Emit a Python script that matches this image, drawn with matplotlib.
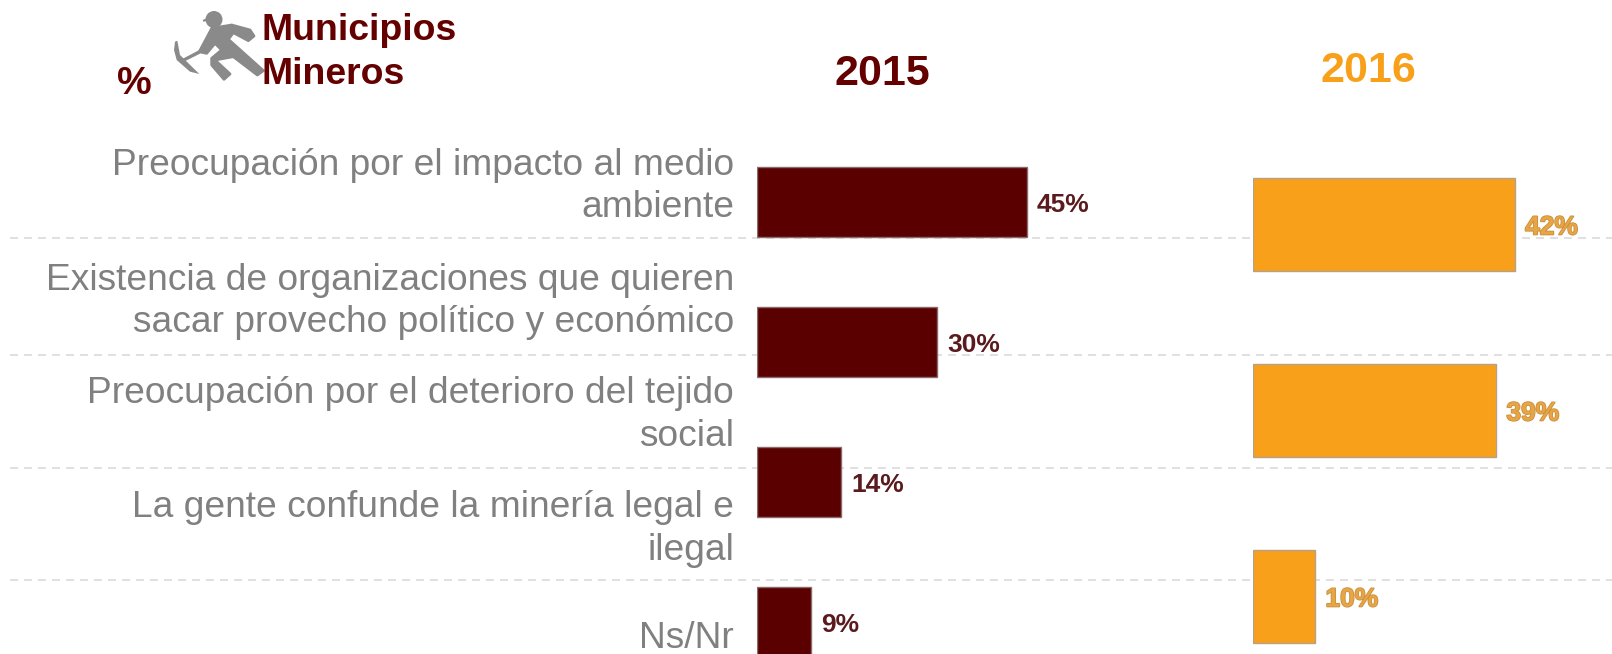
import matplotlib
matplotlib.use("Agg")
import matplotlib.pyplot as plt
import matplotlib.patheffects as pe
from matplotlib.patches import Polygon, Circle

plt.rcParams['font.family'] = ['Liberation Sans', 'DejaVu Sans']

categories = [
    "Preocupación por el impacto al medio\nambiente",
    "Existencia de organizaciones que quieren\nsacar provecho político y económico",
    "Preocupación por el deterioro del tejido\nsocial",
    "La gente confunde la minería legal e\nilegal",
    "Ns/Nr",
]
values_2015 = [45, 30, 14, 9]
values_2016 = [42, 39, 10]
labels_2015 = ["45%", "30%", "14%", "9%"]
labels_2016 = ["42%", "39%", "10%"]

W, H = 1612, 654
MAROON = "#5a0000"
TITLE_RED = "#640000"
ORANGE = "#f9a01b"
GREY = "#808080"


def px_axes(fig, left, top, right, bottom, **kw):
    return fig.add_axes([left / W, 1 - bottom / H, (right - left) / W, (bottom - top) / H], **kw)


def bar_axes(fig, values, labels, x0, px_per, first_y, pitch, height, color, edge, text_style):
    # y axis is in rows, x axis is in percent
    ax = px_axes(fig, x0, 0, W, H, zorder=2)
    ax.patch.set_alpha(0)
    ax.axis("off")
    ax.set_xlim(0, (W - x0) / px_per)
    ax.set_ylim((H - first_y) / pitch, -first_y / pitch)
    rows = list(range(len(values)))
    ax.barh(rows, values, height=height / pitch, color=color, edgecolor=edge, linewidth=1)
    for r, v, lab in zip(rows, values, labels):
        ax.text(v + 10 / px_per, r + 3 / pitch, lab, ha="left", va="center", clip_on=False, **text_style)
    return ax


def icon_pts(pts):
    return [[100 + x / 3, y / 3] for x, y in pts]


fig = plt.figure(figsize=(W / 100, H / 100), dpi=100)

# pixel overlay for separators, titles and the icon
bg = px_axes(fig, 0, 0, W, H, zorder=1)
bg.set_xlim(0, W)
bg.set_ylim(H, 0)
bg.axis("off")

for y in [238, 354.5, 467.5, 580]:
    bg.plot([10, W], [y, y], color="#e0e0e0", lw=1.44, dashes=(4, 3))

label_y = [186.5, 301.5, 415, 529, 639]
for lab, y in zip(categories, label_y):
    bg.text(734, y, lab, ha="right", va="center", fontsize=26.7, color=GREY, linespacing=1.26)

bg.text(882, 74, "2015", ha="center", va="center", fontsize=31, fontweight="bold", color=TITLE_RED)
bg.text(1368, 71, "2016", ha="center", va="center", fontsize=31, fontweight="bold", color=ORANGE)
bg.text(134, 84, "%", ha="center", va="center", fontsize=28, fontweight="bold", color=TITLE_RED)
bg.text(262, 31, "Municipios", ha="left", va="center", fontsize=26.9, fontweight="bold", color=TITLE_RED)
bg.text(262, 74, "Mineros", ha="left", va="center", fontsize=26.9, fontweight="bold", color=TITLE_RED)

# miner icon
icon = "#8a8a8a"
bg.add_patch(Circle((214, 19.5), 8.5, color=icon, lw=0))
bg.add_patch(Polygon(icon_pts([(308, 60), (330, 50), (330, 62), (310, 65)]), color=icon, lw=0))
bg.add_patch(Polygon(icon_pts([(335, 85), (395, 75), (450, 90), (462, 108), (445, 122), (400, 98),
                               (385, 118), (490, 212), (472, 225), (400, 170), (345, 180), (390, 222),
                               (372, 238), (335, 195), (335, 175), (365, 150), (345, 130), (320, 160),
                               (298, 155), (330, 95)]), color=icon, lw=2, joinstyle="round"))
bg.add_patch(Polygon(icon_pts([(245, 178), (298, 150), (302, 160), (250, 186)]), color=icon, lw=0))
bg.add_patch(Polygon(icon_pts([(225, 125), (232, 122), (240, 165), (298, 222), (270, 215), (230, 180),
                               (222, 150)]), color=icon, lw=0))

bar_axes(fig, values_2015, labels_2015, 757, 6.0, 202, 140, 70, MAROON, "#8a6a6a",
         dict(fontsize=19, fontweight="bold", color="#5a1a1e"))
bar_axes(fig, values_2016, labels_2016, 1253, 6.24, 224.5, 186, 92.5, ORANGE, "#b5a088",
         dict(fontsize=19, fontweight="bold", color="#e8a545",
              path_effects=[pe.withStroke(linewidth=1.2, foreground="#c8903c")]))

fig.savefig("out.png", dpi=100, facecolor="white")
